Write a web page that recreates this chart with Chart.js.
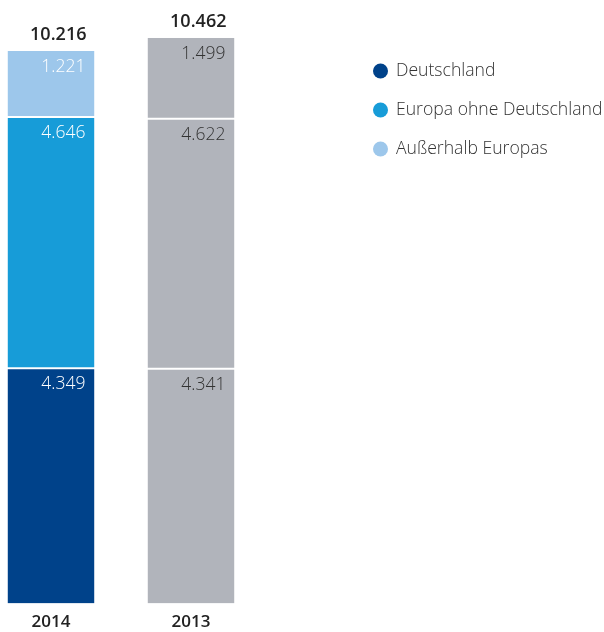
<!DOCTYPE html>
<html><head><meta charset="utf-8">
<script src="https://cdn.jsdelivr.net/npm/chart.js@4.4.0/dist/chart.umd.min.js"></script>
<style>
html,body{margin:0;padding:0;background:#fff;}
#wrap{position:relative;width:604px;height:632px;overflow:hidden;}
#box{position:absolute;left:-19px;top:0;width:623px;height:632px;}
</style></head><body>
<div id="wrap"><div id="box"><canvas id="c"></canvas></div></div>
<script>
const years = ['2014', '2013'];
const seriesNames = ['Deutschland', 'Europa ohne Deutschland', 'Außerhalb Europas'];
const deutschland = [4349, 4341];
const europaOhneDeutschland = [4646, 4622];
const ausserhalbEuropas = [1221, 1499];
const seriesColors = ['#00428a', '#179cd8', '#9dc7eb'];
const grayColor = '#b1b4bb';

const FONT = '"Open Sans", "Noto Sans", sans-serif';
const OFFSET = 19; // canvas shifted left by this many px

function fmt(n) { return String(n).replace(/\B(?=(\d{3})+(?!\d))/g, '.'); }

const seriesData = [deutschland, europaOhneDeutschland, ausserhalbEuropas];
const totals = years.map((_, i) => seriesData.reduce((s, arr) => s + arr[i], 0));
const borderSpecs = [
  {top: 1, bottom: 0, left: 0, right: 0},
  {top: 1, bottom: 1, left: 0, right: 0},
  {top: 0, bottom: 1, left: 0, right: 0}
];

const datasets = seriesNames.map((name, k) => ({
  label: name,
  data: seriesData[k],
  backgroundColor: [seriesColors[k], grayColor],
  legendColor: seriesColors[k],
  borderColor: '#ffffff',
  borderWidth: borderSpecs[k],
  borderSkipped: false,
  barPercentage: 0.621,
  categoryPercentage: 1.0
}));

const labelPlugin = {
  id: 'labels',
  afterDatasetsDraw(chart) {
    const ctx = chart.ctx;
    ctx.save();
    // segment labels
    chart.data.datasets.forEach((ds, di) => {
      const meta = chart.getDatasetMeta(di);
      meta.data.forEach((bar, i) => {
        const p = bar.getProps(['x', 'y', 'width'], true);
        ctx.font = '300 17.5px ' + FONT;
        ctx.fillStyle = i === 0 ? '#ffffff' : '#333333';
        ctx.textAlign = 'right';
        ctx.textBaseline = 'middle';
        ctx.fillText(fmt(ds.data[i]), p.x + p.width / 2 - 9, p.y + 16);
      });
    });
    // totals
    const topMeta = chart.getDatasetMeta(chart.data.datasets.length - 1);
    topMeta.data.forEach((bar, i) => {
      const p = bar.getProps(['x', 'y', 'width'], true);
      ctx.font = '600 18px ' + FONT;
      ctx.fillStyle = '#222222';
      ctx.textAlign = 'right';
      ctx.textBaseline = 'middle';
      ctx.fillText(fmt(totals[i]), p.x + p.width / 2 - 8, p.y - 16);
    });
    // legend
    chart.data.datasets.forEach((ds, di) => {
      const cy = 71 + di * 39;
      const cx = 380.5 + OFFSET;
      ctx.beginPath();
      ctx.arc(cx, cy, 7.5, 0, Math.PI * 2);
      ctx.fillStyle = ds.legendColor;
      ctx.fill();
      ctx.font = '300 17.6px ' + FONT;
      ctx.fillStyle = '#333333';
      ctx.textAlign = 'left';
      ctx.textBaseline = 'middle';
      ctx.fillText(ds.label, 396 + OFFSET, cy);
    });
    ctx.restore();
  }
};

new Chart(document.getElementById('c'), {
  type: 'bar',
  data: { labels: years, datasets: datasets },
  options: {
    responsive: true,
    maintainAspectRatio: false,
    animation: false,
    layout: { padding: { top: 37.7, right: 343, left: 0, bottom: 0 } },
    plugins: { legend: { display: false }, tooltip: { enabled: false } },
    scales: {
      x: {
        stacked: true,
        grid: { display: false, drawTicks: false },
        border: { display: false },
        ticks: { color: '#222222', padding: 8, font: { family: FONT, size: 17, weight: 600, lineHeight: 1.2 } },
        afterFit(scale) { scale.height = 28.5; }
      },
      y: {
        stacked: true,
        display: false,
        min: 0,
        max: 10462
      }
    }
  },
  plugins: [labelPlugin]
});
</script>
</body></html>
